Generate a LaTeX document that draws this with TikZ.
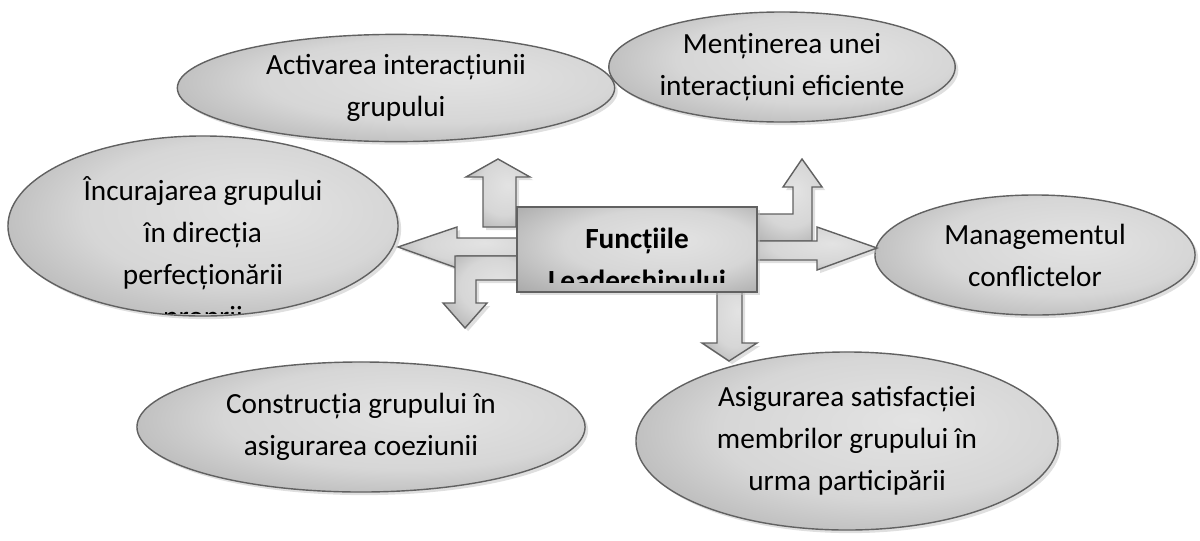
\documentclass[tikz,border=0pt]{standalone}
\usepackage{fontspec}
\setmainfont{Carlito}
\usetikzlibrary{shapes.geometric, shadows}

% light centre, darker rim
\pgfdeclareradialshading{greyglow}{\pgfpoint{8bp}{6bp}}{%
  color(0bp)=(black!11); color(20bp)=(black!16); color(36bp)=(black!32);
  color(46bp)=(black!48); color(50bp)=(black!54)}
\newcommand\lblfont{\fontsize{20.8}{29.9}\selectfont}

\begin{document}
\begin{tikzpicture}[
    x=0.025cm, y=-0.025cm,
    shade3d/.style={draw=black!62, line width=1pt, shading=greyglow,
        drop shadow={shadow xshift=2.2pt, shadow yshift=-2.2pt, fill=black!25}},
    bubble/.style={shade3d, ellipse, inner sep=0pt, align=center, font=\lblfont},
    blockarr/.style={shade3d, line join=miter},
    caption/.style={inner sep=0pt, align=center, font=\lblfont}
]
\useasboundingbox (0,0) rectangle (1200,540);

% outer ellipses
\node[bubble, minimum width=10.93cm, minimum height=2.68cm] (activ) at (396,88)
    {Activarea interacțiunii\\grupului};
\node[bubble, minimum width=8cm, minimum height=2.75cm] (mentin) at (782,67)
    {Menținerea unei\\interacțiuni eficiente};
\node[bubble, minimum width=9.75cm, minimum height=4.5cm] (incur) at (203,226) {};
\node[bubble, minimum width=8cm, minimum height=3cm] (manag) at (1035,255)
    {Managementul\\conflictelor};
\node[bubble, minimum width=11.2cm, minimum height=3.25cm] (constr) at (361,427)
    {Construcția grupului în\\asigurarea coeziunii};
\node[bubble, minimum width=10.55cm, minimum height=4.45cm] (asig) at (847,441)
    {Asigurarea satisfacției\\membrilor grupului în\\urma participării};

\begin{scope}
  \clip (0,130) rectangle (420,313);
  \node[caption] (incurtxt) at (203,254)
    {Încurajarea grupului\\în direcția\\perfecționării\\proprii};
\end{scope}

% block arrows around the centre
\draw[blockarr] (483,227) -- (483,177) -- (466,177) -- (498,159) -- (530,177)
    -- (516,177) -- (516,227) -- cycle;
\draw[blockarr] (530,238) -- (457,238) -- (457,227) -- (398,247) -- (457,268)
    -- (457,256) -- (530,256) -- cycle;
\draw[blockarr] (530,256) -- (455,256) -- (455,303) -- (443,303) -- (465,328)
    -- (487,303) -- (476,303) -- (476,280) -- (530,280) -- cycle;
\draw[blockarr] (745,241) -- (812,241) -- (812,187) -- (822,187) -- (802,159)
    -- (783,187) -- (793,187) -- (793,214) -- (745,214) -- cycle;
\draw[blockarr] (745,241) -- (817,241) -- (817,227) -- (877,248) -- (817,270)
    -- (817,260) -- (745,260) -- cycle;
\draw[blockarr] (717,280) -- (717,343) -- (702,343) -- (729,361) -- (757,343)
    -- (742,343) -- (742,280) -- cycle;

% centre box
\node[shade3d, rectangle, minimum width=6cm, minimum height=2.125cm] (functii) at (637,249.5) {};
\begin{scope}
  \clip (517,207) rectangle (757,282);
  \node[caption] (functiitxt) at (637,262) {\textbf{Funcțiile}\\\textbf{Leadershipului}};
\end{scope}
\end{tikzpicture}
\end{document}
